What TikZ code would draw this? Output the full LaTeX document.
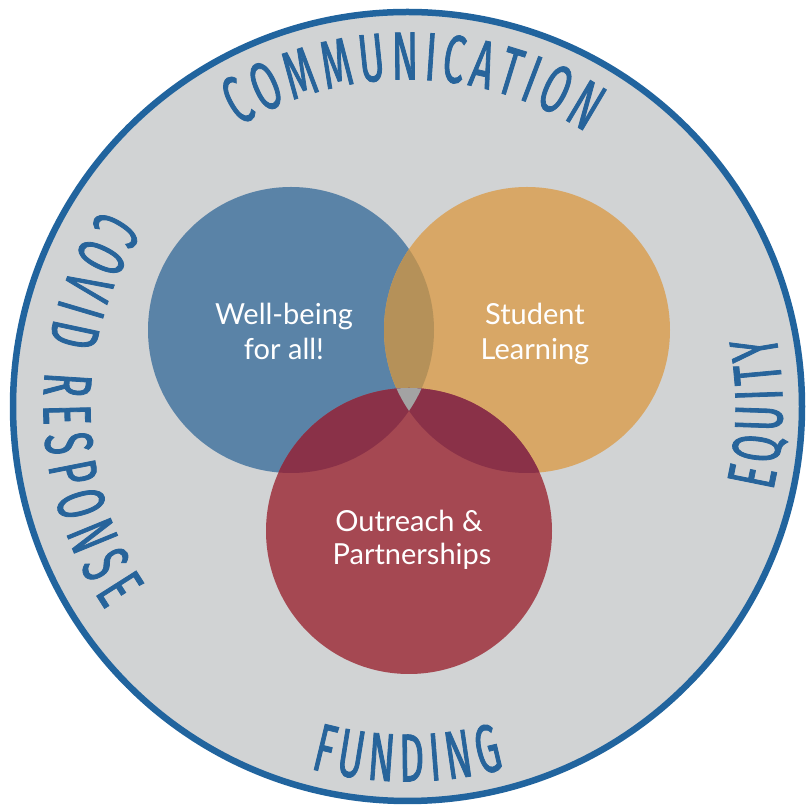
\documentclass[tikz,border=0pt]{standalone}
\usepackage{fontspec}
\setmainfont{Lato}
\newfontfamily\rimfamily[FakeStretch=0.57,FakeBold=1.2]{Fira Sans}
\usetikzlibrary{decorations.text,calc}
\definecolor{rimblue}{HTML}{21649E}
\definecolor{rimtext}{HTML}{27649B}
\definecolor{bggray}{HTML}{D1D3D4}
\definecolor{cblue}{HTML}{5A83A7}
\definecolor{corange}{HTML}{D8A766}
\definecolor{cred}{HTML}{A54852}
\definecolor{cbo}{HTML}{B59159}
\definecolor{cdred}{HTML}{8A3148}
\definecolor{ctri}{HTML}{A3A3A3}
\newcommand\rimfont{\rimfamily\fontsize{68}{70}\selectfont}
\begin{document}
\begin{tikzpicture}[x=1pt,y=1pt,
  rimtextstyle/.style={decorate, decoration={text along path, text color=rimtext, text align=fit to path, text={#1}}},
  venntext/.style={text=white, font=\fontsize{29}{35}\selectfont, anchor=base, inner sep=0pt}]
\useasboundingbox (0,0) rectangle (807,806);
\coordinate (C) at (407.5,399.5);
\fill[bggray] (C) circle[radius=394.5];
\draw[rimblue, line width=6.5] (C) circle[radius=394.5];

\coordinate (B) at (291,476);
\coordinate (O) at (527,476);
\coordinate (R) at (409,275);
\fill[cblue] (B) circle[radius=143];
\fill[corange] (O) circle[radius=143];
\begin{scope}
  \clip (B) circle[radius=143];
  \fill[cbo] (O) circle[radius=143];
\end{scope}
\fill[cred] (R) circle[radius=143];
\begin{scope}
  \clip (R) circle[radius=143];
  \fill[cdred] (B) circle[radius=143];
  \fill[cdred] (O) circle[radius=143];
  \clip (B) circle[radius=143];
  \fill[ctri] (O) circle[radius=143];
\end{scope}

\path[rimtextstyle={|\rimfont|COMMUNICATION}] ($(C)+(121:327)$) arc[start angle=121, end angle=57, radius=327];
\path[rimtextstyle={|\rimfont|FUNDING}] ($(C)+(255:375)$) arc[start angle=255, end angle=285, radius=375];
\path[rimtextstyle={|\rimfont|EQUITY}] ($(C)+(-13:375)$) arc[start angle=-13, end angle=11, radius=375];
\path[rimtextstyle={|\rimfont|COVID RESPONSE}] ($(C)+(147:364)$) arc[start angle=147, end angle=214, radius=364];

\node[venntext] (wb1) at (284,481) {Well-being};
\node[venntext] (wb2) at (284,446) {for all!};
\node[venntext] (sl1) at (535,481) {Student};
\node[venntext] (sl2) at (535,446) {Learning};
\node[venntext] (op1) at (409,274) {Outreach \&};
\node[venntext] (op2) at (412,241) {Partnerships};
\end{tikzpicture}
\end{document}
